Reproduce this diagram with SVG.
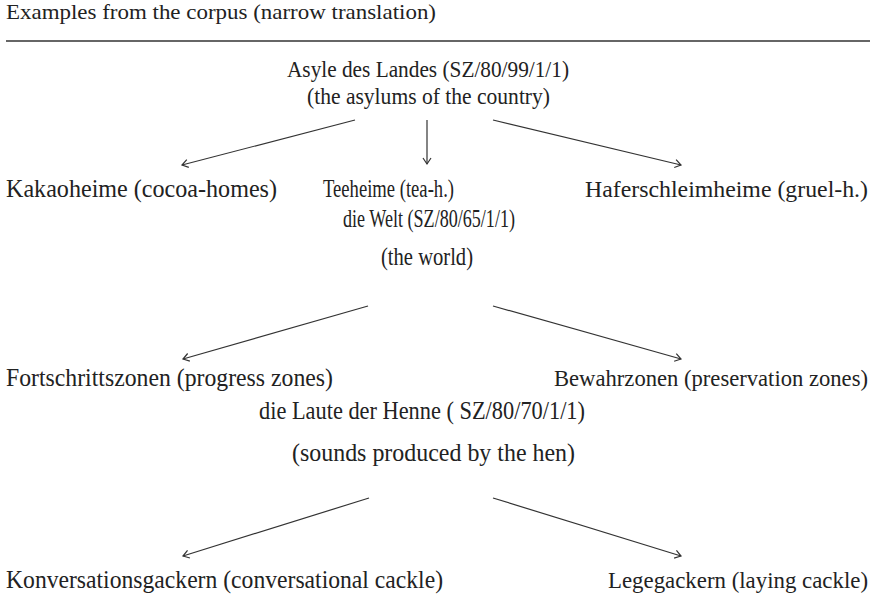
<svg xmlns="http://www.w3.org/2000/svg" width="875" height="609" viewBox="0 0 875 609">
<style>
text{font-family:"Liberation Serif","DejaVu Serif",serif;fill:#222;}
.t{font-size:22px;}
.a{font-size:23px;}
.b{font-size:25px;}
.r{font-size:23px;}
.e{stroke:#333;stroke-width:1.2;fill:none;marker-end:url(#ah);}
</style>
<defs>
<marker id="ah" markerUnits="userSpaceOnUse" markerWidth="14" markerHeight="14" viewBox="-8 -7 10 14" refX="0" refY="0" orient="auto">
<path d="M-6,-4 L0,0 L-6,4" fill="none" stroke="#333" stroke-width="1.2"/>
</marker>
</defs>
<g id="header">
<text class="t" x="6" y="19" textLength="430" lengthAdjust="spacingAndGlyphs">Examples from the corpus (narrow translation)</text>
<line x1="6" y1="41" x2="870" y2="41" stroke="#333" stroke-width="1.5"/>
</g>
<g id="asyle">
<text class="a" x="287" y="77" textLength="282" lengthAdjust="spacingAndGlyphs">Asyle des Landes (SZ/80/99/1/1)</text>
<text class="a" x="307" y="104" textLength="243" lengthAdjust="spacingAndGlyphs">(the asylums of the country)</text>
</g>
<g id="kakao"><text class="b" x="6" y="197" textLength="271" lengthAdjust="spacingAndGlyphs">Kakaoheime (cocoa-homes)</text></g>
<g id="tee"><text class="b" x="323" y="197" textLength="131" lengthAdjust="spacingAndGlyphs">Teeheime (tea-h.)</text></g>
<g id="hafer"><text class="r" x="585" y="197" textLength="283" lengthAdjust="spacingAndGlyphs">Haferschleimheime (gruel-h.)</text></g>
<g id="welt">
<text class="b" x="343" y="227" textLength="172" lengthAdjust="spacingAndGlyphs">die Welt (SZ/80/65/1/1)</text>
<text class="b" x="381" y="265" textLength="92" lengthAdjust="spacingAndGlyphs">(the world)</text>
</g>
<g id="fortschritt"><text class="b" x="6" y="386" textLength="327" lengthAdjust="spacingAndGlyphs">Fortschrittszonen (progress zones)</text></g>
<g id="bewahr"><text class="r" x="554" y="386" textLength="314" lengthAdjust="spacingAndGlyphs">Bewahrzonen (preservation zones)</text></g>
<g id="henne">
<text class="b" x="259" y="419" textLength="326" lengthAdjust="spacingAndGlyphs">die Laute der Henne ( SZ/80/70/1/1)</text>
<text class="b" x="292" y="461" textLength="283" lengthAdjust="spacingAndGlyphs">(sounds produced by the hen)</text>
</g>
<g id="konversation"><text class="b" x="6" y="588" textLength="437" lengthAdjust="spacingAndGlyphs">Konversationsgackern (conversational cackle)</text></g>
<g id="lege"><text class="r" x="608" y="588" textLength="260" lengthAdjust="spacingAndGlyphs">Legegackern (laying cackle)</text></g>
<g id="connectors">
<line class="e" x1="355" y1="120" x2="182" y2="165"/>
<line class="e" x1="427" y1="120" x2="427" y2="164"/>
<line class="e" x1="493" y1="120" x2="681" y2="165"/>
<line class="e" x1="368" y1="306" x2="183" y2="359"/>
<line class="e" x1="493" y1="306" x2="681" y2="359"/>
<line class="e" x1="369" y1="498" x2="183" y2="556"/>
<line class="e" x1="493" y1="498" x2="681" y2="556"/>
</g>
</svg>
